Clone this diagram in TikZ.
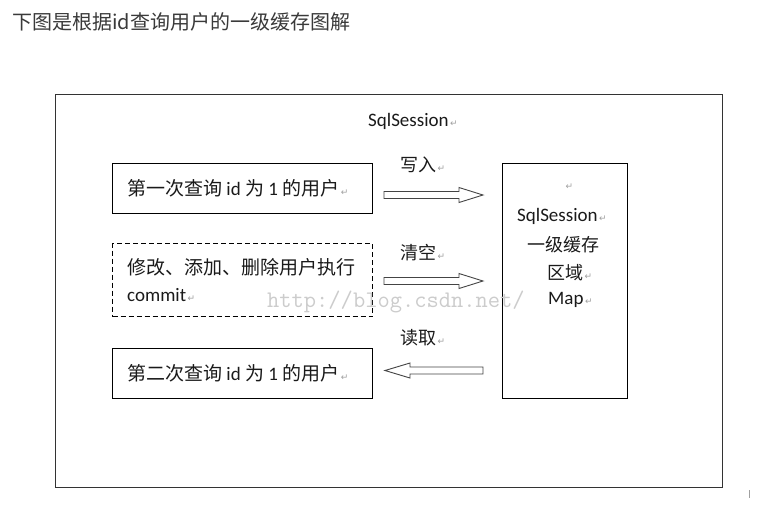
\documentclass[tikz,border=0pt]{standalone}
\usepackage{fontspec}
\setmainfont{Carlito}
\newfontfamily\cjk{Noto Sans CJK SC}
\newfontfamily\dvs{DejaVu Sans}
\usetikzlibrary{calc}
\definecolor{retgray}{HTML}{A0A0A0}
\definecolor{titlegray}{HTML}{3A3A3A}
\definecolor{inkc}{HTML}{1A1A1A}
\definecolor{framec}{HTML}{333333}
\definecolor{wmgray}{HTML}{CCCCCC}
\definecolor{arrc}{HTML}{444444}
\newcommand\rmk{{\dvs\fontsize{9}{9}\selectfont\color{retgray}\,↵}}
\newcommand\cj[1]{{\cjk\fontsize{18}{22}\selectfont #1}}
\newcommand\cjb[1]{{\cjk\fontsize{19}{22}\selectfont #1}}
\begin{document}
\begin{tikzpicture}[x=1pt,y=-1pt,
  txt/.style={inner sep=0pt, anchor=west, font=\fontsize{19}{22}\selectfont, text=inkc},
  boxc/.style={draw=black, line width=1pt, inner sep=0pt, anchor=north west},
  blockarr/.style={draw=arrc, line width=0.9pt, fill=white, line join=miter}]
\useasboundingbox (0,0) rectangle (778,515);
\fill[white] (0,0) rectangle (778,515);

% title
\node[inner sep=0pt, anchor=west, font=\cjk\fontsize{20}{24}\selectfont, text=titlegray] (title) at (12,22) {下图是根据id查询用户的一级缓存图解};

% outer frame
\node[draw=framec, line width=1.2pt, inner sep=0pt, anchor=north west, minimum width=667pt, minimum height=393pt] (frame) at (55,94) {};
\node[txt] (sqltop) at (368,121) {SqlSession\rmk};

% left boxes
\node[boxc, minimum width=260pt, minimum height=50pt] (b1) at (112,163) {};
\node[boxc, dash pattern=on 5pt off 3pt, minimum width=260pt, minimum height=73pt] (b2) at (112,243) {};
\node[boxc, minimum width=260pt, minimum height=50pt] (b3) at (112,348) {};

\node[txt] (t1) at (127,188) {\cjb{第一次查询} id \cjb{为} 1 \cjb{的用户}\rmk};
\node[txt] (t2a) at (127,267) {\cjb{修改、添加、删除用户执行}};
\node[txt] (t2b) at (127,295) {commit\rmk};
\node[txt] (t3) at (127,373) {\cjb{第二次查询} id \cjb{为} 1 \cjb{的用户}\rmk};

% cache box
\node[boxc, minimum width=125pt, minimum height=235pt] (cache) at (502,163) {};
\node[txt] (c0) at (564,187) {\rmk};
\node[txt] (c1) at (517,216) {SqlSession\rmk};
\node[txt] (c2) at (527,245) {\cj{一级缓存}};
\node[txt] (c3) at (547,273) {\cj{区域}\rmk};
\node[txt] (c4) at (548,300) {Map\rmk};

% labels
\node[txt] (l1) at (400,165) {\cj{写入}\rmk};
\node[txt] (l2) at (400,253) {\cj{清空}\rmk};
\node[txt] (l3) at (400,338) {\cj{读取}\rmk};

% block arrows
\coordinate (a1) at (384,195);
\coordinate (a2) at (384,281);
\coordinate (a3) at (385,370.5);
\draw[blockarr] (a1) ++(0,-3.5) -- ++(75,0) -- ++(0,-4) -- ++(24,7.5) -- ++(-24,7.5) -- ++(0,-4) -- ++(-75,0) -- cycle;
\draw[blockarr] (a2) ++(0,-3.5) -- ++(75,0) -- ++(0,-4) -- ++(24,7.5) -- ++(-24,7.5) -- ++(0,-4) -- ++(-75,0) -- cycle;
\draw[blockarr] (a3) -- ++(25,-7.5) -- ++(0,4) -- ++(73,0) -- ++(0,7) -- ++(-73,0) -- ++(0,4) -- cycle;

% watermark
\node[anchor=base west, inner sep=0pt, font=\ttfamily\fontsize{23.8}{24}\selectfont, text=wmgray] (wm) at (267,307) {http://blog.csdn.net/};

% small tick
\draw[retgray, line width=1pt] (749,490) -- (749,498);
\end{tikzpicture}
\end{document}
